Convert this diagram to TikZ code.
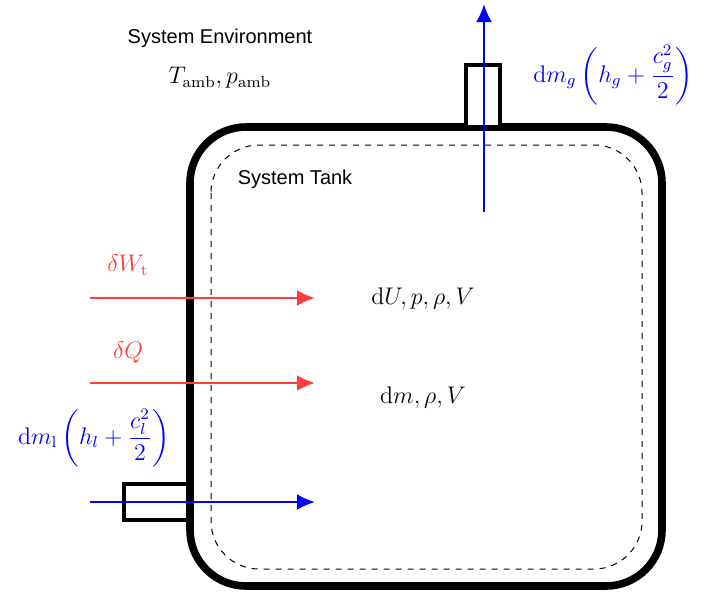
\documentclass[tikz,border=0pt]{standalone}
\usepackage{amsmath}
\usepackage{fontspec}
\setsansfont{Liberation Sans}
\usepackage{xcolor}
\definecolor{rojoFlujo}{HTML}{FF3B3B}
\definecolor{azulMasa}{HTML}{0000FF}
\usepackage{tikz}
\usetikzlibrary{arrows.meta,positioning,calc}

\begin{document}
\begin{tikzpicture}[x=0.5pt,y=-0.5pt,
    flujo/.style={-{Latex[length=9pt,width=8pt]},line width=1.3pt},
    pared/.style={draw,line width=3.8pt,rounded corners=28pt},
    tubo/.style={draw,line width=2pt,fill=white},
    formula/.style={font=\large}]
  \useasboundingbox (0,0) rectangle (704,594);
  % tanque
  \draw[pared] (190,127) rectangle (662,586);
  \draw[dashed,line width=0.5pt,rounded corners=24pt] (211,145) rectangle (642,569);
  \draw[tubo] (466,65) rectangle (500,127);
  \draw[tubo] (124,484) rectangle (190,520);
  \draw[line width=3.8pt] (190,470) -- (190,530);
  % puntos de los flujos
  \coordinate (wIn) at (90,298);  \coordinate (wEnd) at (315,298);
  \coordinate (qIn) at (90,383);  \coordinate (qEnd) at (315,383);
  \coordinate (lIn) at (90,502);  \coordinate (lEnd) at (315,502);
  \coordinate (gIn) at (484,212); \coordinate (gEnd) at (484,4);
  % textos
  \node[font=\sffamily] (env) at (220,38) {System Environment};
  \node[formula] (amb) at (220,78) {\(T_{\mathrm{amb}},p_{\mathrm{amb}}\)};
  \node[font=\sffamily] (tankname) at (295,179) {System Tank};
  \node[formula] (state1) at (423,298) {\(\mathrm{d}U,p,\rho,V\)};
  \node[formula] (state2) at (423,397) {\(\mathrm{d}m,\rho,V\)};
  \node[formula,text=rojoFlujo] (work) at (128,265) {\(\delta W_{\mathrm{t}}\)};
  \node[formula,text=rojoFlujo] (heat) at (128,352) {\(\delta Q\)};
  \node[formula,text=azulMasa] (massl) at (94,438)
    {\(\mathrm{d}m_{\mathrm{l}}\left(h_l+\dfrac{c_l^2}{2}\right)\)};
  \node[formula,text=azulMasa] (massg) at (613,75)
    {\(\mathrm{d}m_g\left(h_g+\dfrac{c_g^2}{2}\right)\)};
  % flujos
  \draw[flujo,rojoFlujo] (wIn) -- (wEnd);
  \draw[flujo,rojoFlujo] (qIn) -- (qEnd);
  \draw[flujo,azulMasa] (lIn) -- (lEnd);
  \draw[flujo,azulMasa] (gIn) -- (gEnd);
\end{tikzpicture}
\end{document}
